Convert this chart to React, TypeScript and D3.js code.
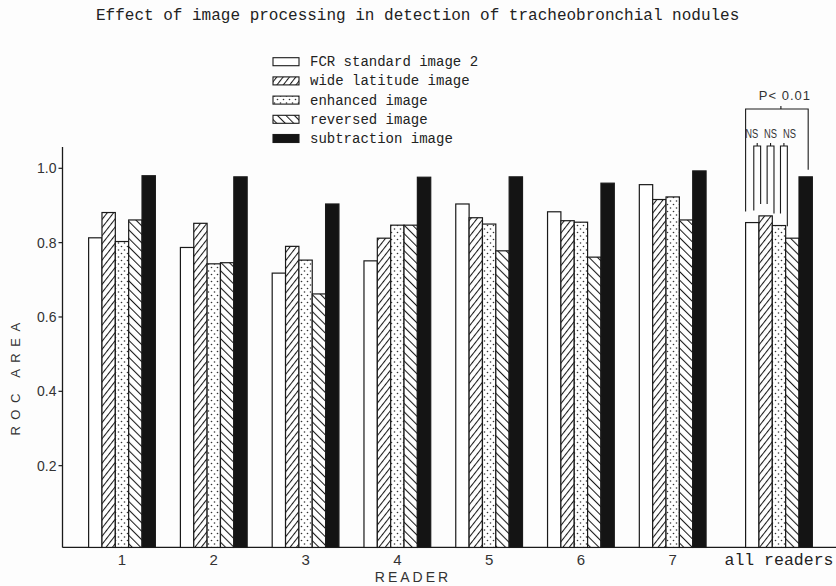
import React from "react";
import * as d3 from "d3";

// ---- data ----
const readers = ["1", "2", "3", "4", "5", "6", "7", "all readers"];
const seriesNames = [
  "FCR standard image 2",
  "wide latitude image",
  "enhanced image",
  "reversed image",
  "subtraction image",
];
const fcrStandard = [0.813, 0.787, 0.718, 0.751, 0.904, 0.883, 0.956, 0.854];
const wideLatitude = [0.881, 0.852, 0.790, 0.812, 0.867, 0.859, 0.916, 0.872];
const enhanced = [0.803, 0.743, 0.753, 0.847, 0.850, 0.855, 0.923, 0.846];
const reversedImg = [0.861, 0.746, 0.662, 0.847, 0.778, 0.761, 0.861, 0.812];
const subtraction = [0.980, 0.977, 0.904, 0.976, 0.977, 0.960, 0.993, 0.977];
const seriesValues = [fcrStandard, wideLatitude, enhanced, reversedImg, subtraction];

const yTickValues = [0.2, 0.4, 0.6, 0.8, 1.0];
const yTickLabels = ["0.2", "0.4", "0.6", "0.8", "1.0"];

const titleText = "Effect of image processing in detection of tracheobronchial nodules";
const yAxisTitle = "ROC AREA";
const xAxisTitle = "READER";

// significance annotations on the pooled group
const nsLabel = "NS";
const nsPairs: [number, number][] = [[0, 1], [1, 2], [2, 3]];
const pLabel = "P< 0.01";
const pPair: [number, number] = [0, 4];

// ---- layout ----
const W = 836;
const H = 586;
const axisX = 62.5;
const barW = 13.35;
const summaryGap = 14.5;

const y = d3.scaleLinear().domain([0, 1]).range([540, 168.3]);
const baseY = y(-0.02);
const xReader = d3.scaleLinear().domain([1, 7]).range([122, 672.7]);
const groupCenter = (i: number) =>
  i < 7 ? xReader(i + 1) : xReader(i + 1) + summaryGap;
const inner = d3
  .scaleBand<number>()
  .domain(d3.range(seriesNames.length))
  .range([-2.5 * barW, 2.5 * barW])
  .padding(0);

const fills = ["#ffffff", "url(#hatchFwd)", "url(#dots)", "url(#hatchBack)", "#141414"];
const ink = "#1a1a1a";
const mono = "'Liberation Mono', 'Courier New', monospace";
const sans = "'Liberation Sans', Arial, sans-serif";

export default function App() {
  const summary = readers.length - 1;
  const barLeft = (g: number, s: number) => groupCenter(g) + (inner(s) as number);
  const barMid = (g: number, s: number) => barLeft(g, s) + barW / 2;

  return (
    <svg
      width={W}
      height={H}
      viewBox={`0 0 ${W} ${H}`}
      style={{ position: "absolute", left: 0, top: 0, background: "#fdfdfd" }}
    >
      <defs>
        <pattern id="hatchFwd" patternUnits="userSpaceOnUse" width={5} height={5} patternTransform="rotate(38)">
          <rect width={5} height={5} fill="#fff" />
          <line x1={0.5} y1={0} x2={0.5} y2={5} stroke={ink} strokeWidth={1.1} />
        </pattern>
        <pattern id="hatchBack" patternUnits="userSpaceOnUse" width={6} height={6} patternTransform="rotate(-45)">
          <rect width={6} height={6} fill="#fff" />
          <line x1={0.5} y1={0} x2={0.5} y2={6} stroke={ink} strokeWidth={1.1} />
        </pattern>
        <pattern id="dots" patternUnits="userSpaceOnUse" width={6} height={7}>
          <rect width={6} height={7} fill="#fff" />
          <circle cx={1.5} cy={1.5} r={0.8} fill="#333" />
          <circle cx={4.5} cy={5} r={0.8} fill="#333" />
        </pattern>
      </defs>

      {/* title */}
      <text x={96} y={20} fontFamily={mono} fontSize={16} fill="#222">
        {titleText}
      </text>

      {/* legend */}
      {seriesNames.map((name, i) => {
        const cy = 61.7 + i * 19.2;
        return (
          <g key={name}>
            <rect x={273} y={cy - 4} width={26} height={8} fill={fills[i]} stroke={ink} strokeWidth={1.1} />
            <text x={310} y={cy + 4.5} fontFamily={mono} fontSize={14} fill="#222">
              {name}
            </text>
          </g>
        );
      })}

      {/* axes */}
      <line x1={axisX} y1={147} x2={axisX} y2={baseY} stroke={ink} strokeWidth={1.3} />
      <line x1={axisX} y1={baseY} x2={836} y2={baseY} stroke={ink} strokeWidth={1.3} />
      {yTickValues.map((v, i) => (
        <g key={v}>
          <line x1={axisX - 4} y1={y(v)} x2={axisX} y2={y(v)} stroke={ink} strokeWidth={1.2} />
          <text
            x={axisX - 6}
            y={y(v) + 5}
            textAnchor="end"
            fontFamily={sans}
            fontSize={14}
            fill="#333"
          >
            {yTickLabels[i]}
          </text>
        </g>
      ))}
      <text
        transform={`translate(20,376) rotate(-90)`}
        textAnchor="middle"
        fontFamily={sans}
        fontSize={13}
        letterSpacing={6.5}
        fill="#333"
      >
        {yAxisTitle}
      </text>

      {/* bars */}
      {readers.map((r, g) => (
        <g key={r}>
          {seriesValues.map((vals, s) => (
            <rect
              key={s}
              x={barLeft(g, s)}
              y={y(vals[g])}
              width={barW}
              height={baseY - y(vals[g])}
              fill={fills[s]}
              stroke={ink}
              strokeWidth={1.2}
            />
          ))}
        </g>
      ))}

      {/* category labels */}
      {readers.map((r, g) =>
        g < summary ? (
          <text key={r} x={groupCenter(g)} y={565} textAnchor="middle" fontFamily={sans} fontSize={15} fill="#333">
            {r}
          </text>
        ) : (
          <text key={r} x={groupCenter(g)} y={565} textAnchor="middle" fontFamily={mono} fontSize={16.5} fill="#222">
            {r}
          </text>
        )
      )}
      <text x={413} y={582} textAnchor="middle" fontFamily={sans} fontSize={14} letterSpacing={3} fill="#333">
        {xAxisTitle}
      </text>

      {/* significance: P < 0.01 bracket */}
      {(() => {
        const xa = barLeft(summary, pPair[0]);
        const xb = barMid(summary, pPair[1]) + 2.5;
        const ya = y(seriesValues[pPair[0]][summary]) - 11;
        const yb = y(seriesValues[pPair[1]][summary]) - 7;
        const top = 109;
        const mid = (xa + xb) / 2;
        return (
          <g fill="none" stroke={ink} strokeWidth={1.1}>
            <path d={`M${xa},${ya} V${top} H${xb} V${yb}`} />
            <line x1={mid + 4} y1={top} x2={mid + 4} y2={top - 3} />
            <text
              x={mid + 8}
              y={100}
              textAnchor="middle"
              fontFamily={sans}
              fontSize={13}
              letterSpacing={1}
              fill="#333"
              stroke="none"
            >
              {pLabel}
            </text>
          </g>
        );
      })()}

      {/* significance: NS brackets */}
      {nsPairs.map(([a, b], k) => {
        const xa = barMid(summary, a) + 1.5;
        const xb = barMid(summary, b) - 5;
        const ya = y(seriesValues[a][summary]) - 12;
        const yb = y(seriesValues[b][summary]) - 12;
        const top = 146;
        const mid = (xa + xb) / 2;
        const tx = mid + (k - 1) * 5.5;
        return (
          <g key={k} fill="none" stroke={ink} strokeWidth={1.1}>
            <path d={`M${xa},${ya} V${top} H${xb} V${yb}`} />
            <line x1={mid} y1={top} x2={mid} y2={top - 3} />
            <text
              x={tx - 6.5}
              y={138}
              textLength={13}
              lengthAdjust="spacingAndGlyphs"
              fontFamily={sans}
              fontSize={12}
              fill="#333"
              stroke="none"
            >
              {nsLabel}
            </text>
          </g>
        );
      })}
    </svg>
  );
}
